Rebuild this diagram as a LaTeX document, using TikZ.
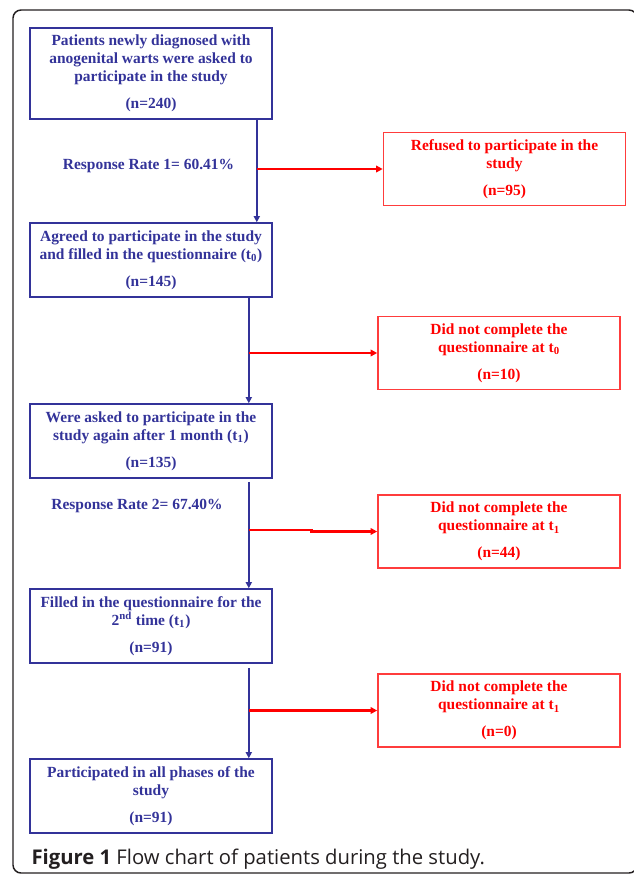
\documentclass[tikz,border=0pt]{standalone}
\usepackage{fontspec}
\setmainfont{Liberation Serif}
\newfontfamily\capfont{Open Sans}
\usetikzlibrary{arrows.meta}

\definecolor{navyline}{RGB}{51,51,153}
\definecolor{redtext}{RGB}{255,0,0}
\definecolor{redline}{RGB}{255,60,60}
\definecolor{framegray}{RGB}{35,31,32}

\tikzset{every picture/.style={line width=0.75pt}}
\tikzset{
  boxfont/.style={font=\fontsize{11.6pt}{13.5pt}\selectfont\bfseries, align=center, inner sep=0pt},
  stagebox/.style={boxfont, draw=navyline, line width=1.2pt, text=navyline, minimum width=181.5pt, minimum height=55.5pt},
  lossbox/.style={boxfont, draw=redline, line width=1.2pt, text=redtext, minimum width=181.5pt, minimum height=55pt},
  flowline/.style={navyline, line width=1.5pt, -{Triangle[length=4.5pt,width=4.5pt]}},
  lossline/.style={redtext, line width=2.2pt, -{Triangle[length=5pt,width=5pt]}},
  ratelabel/.style={boxfont, text=navyline}
}

\begin{document}
\begin{tikzpicture}[x=0.75pt,y=0.75pt,yscale=-1,xscale=1]
\useasboundingbox (0,0) rectangle (633,876);

%Rounded Rect
\draw [color=framegray, line width=1.1pt, rounded corners=6] (13,10) rectangle (637,873) ;

%Shape: Rectangle
\node [stagebox, minimum height=68.25pt] (box1) at (151,73.5) {Patients newly diagnosed with\\anogenital warts were asked to\\participate in the study\\[6.75pt](n=240)};
%Shape: Rectangle
\node [stagebox] (box2) at (151,260) {Agreed to participate in the study\\and filled in the questionnaire (t\textsubscript{0})\\[6.75pt](n=145)};
%Shape: Rectangle
\node [stagebox] (box3) at (151,441) {Were asked to participate in the\\study again after 1 month (t\textsubscript{1})\\[6.75pt](n=135)};
%Shape: Rectangle
\node [stagebox] (box4) at (151,626) {Filled in the questionnaire for the\\2\textsuperscript{nd} time (t\textsubscript{1})\\[6.75pt](n=91)};
%Shape: Rectangle
\node [stagebox] (box5) at (151,796) {Participated in all phases of the\\study\\[6.75pt](n=91)};

%Shape: Rectangle
\node [lossbox] (lossA) at (504.5,169) {Refused to participate in the\\study\\[6.75pt](n=95)};
%Shape: Rectangle
\node [lossbox] (lossB) at (499,353) {Did not complete the\\questionnaire at t\textsubscript{0}\\[6.75pt](n=10)};
%Shape: Rectangle
\node [lossbox] (lossC) at (499,531.5) {Did not complete the\\questionnaire at t\textsubscript{1}\\[6.75pt](n=44)};
%Shape: Rectangle
\node [lossbox] (lossD) at (499,710.5) {Did not complete the\\questionnaire at t\textsubscript{1}\\[6.75pt](n=0)};

% Text Node
\node [ratelabel] (rate1) at (148.5,166) {Response Rate 1= 60.41\%};
% Text Node
\node [ratelabel] (rate2) at (137,506) {Response Rate 2= 67.40\%};

%Straight Lines
\coordinate (j1) at ([shift={(-16,0)}]box1.south east);
\coordinate (j2) at ([shift={(-24,0)}]box2.south east);
\coordinate (j3) at ([shift={(-24,0)}]box3.south east);
\coordinate (j4) at ([shift={(-24,0)}]box4.south east);
\draw [flowline] (j1) -- ([shift={(-16,0)}]box2.north east) ;
\draw [flowline] (j2) -- ([shift={(-24,0)}]box3.north east) ;
\draw [flowline, shorten <=2.25pt] (j3) -- ([shift={(-24,0)}]box4.north east) ;
\draw [flowline, shorten <=3pt] (j4) -- ([shift={(-24,0)}]box5.north east) ;

%Straight Lines
\draw [lossline] (j1 |- lossA.west) -- (lossA.west) ;
\draw [lossline] (j2 |- lossB.west) -- (lossB.west) ;
\draw [lossline] (j3 |- lossC.west) ++(0,-1.5) -- ++(63,0) |- (lossC.west) ;
\draw [lossline] (j4 |- lossD.west) -- (lossD.west) ;

% Text Node
\node [anchor=base west, inner sep=0pt, text=framegray, font=\capfont\fontsize{15.2pt}{17pt}\selectfont] (caption) at (31,864) {\textbf{Figure 1} Flow chart of patients during the study.};

\end{tikzpicture}
\end{document}
